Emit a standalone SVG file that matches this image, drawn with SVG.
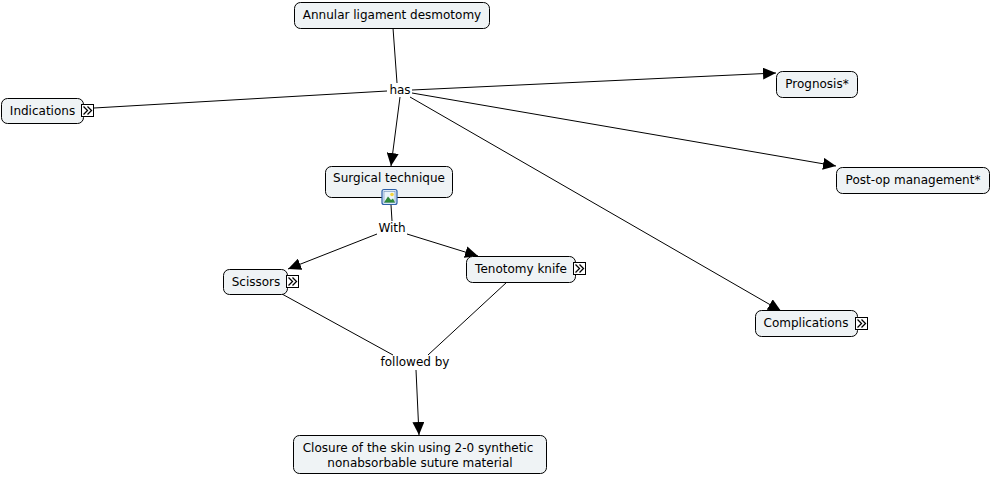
<svg xmlns="http://www.w3.org/2000/svg" width="992" height="477" viewBox="0 0 992 477">
<defs>
<style>
.box{fill:#eff3f5;stroke:#000;stroke-width:1}
.t{font-family:"DejaVu Sans",Verdana,sans-serif;font-size:12px;fill:#000}
.lbl{font-family:"DejaVu Sans",Verdana,sans-serif;font-size:12px;fill:#000;text-anchor:middle}
.c{stroke:#000;stroke-width:1;fill:none}
.ic{fill:#fff;stroke:#000;stroke-width:1}
.chev{fill:none;stroke:#000;stroke-width:1.3}
</style>
<marker id="ah" markerUnits="userSpaceOnUse" markerWidth="14" markerHeight="12" refX="13" refY="6" orient="auto">
<path d="M0,0 L13,6 L0,12 Z" fill="#000"/>
</marker>
<g id="more">
<rect class="ic" x="0" y="0" width="12" height="12"/>
<path class="chev" d="M2,2 L6,6 L2,10 M6,2 L10,6 L6,10"/>
</g>
</defs>
<rect width="992" height="477" fill="#fff"/>

<g id="connectors">
<line class="c" x1="393" y1="28" x2="397" y2="83"/>
<line class="c" x1="387" y1="91" x2="94" y2="108"/>
<line class="c" x1="412" y1="90" x2="776" y2="73" marker-end="url(#ah)"/>
<line class="c" x1="400" y1="97" x2="391" y2="166" marker-end="url(#ah)"/>
<line class="c" x1="412" y1="93" x2="836" y2="166" marker-end="url(#ah)"/>
<line class="c" x1="410" y1="97" x2="781" y2="311" marker-end="url(#ah)"/>
<line class="c" x1="391" y1="205" x2="392" y2="221"/>
<line class="c" x1="377" y1="234" x2="288" y2="269" marker-end="url(#ah)"/>
<line class="c" x1="407" y1="234" x2="478" y2="256" marker-end="url(#ah)"/>
<line class="c" x1="282" y1="294" x2="393" y2="355"/>
<line class="c" x1="507" y1="282" x2="428" y2="355"/>
<line class="c" x1="416" y1="370" x2="419" y2="435" marker-end="url(#ah)"/>
</g>

<g id="link-labels">
<text class="lbl" x="400" y="94">has</text>
<text class="lbl" x="392" y="232">With</text>
<text class="lbl" x="415" y="366">followed by</text>
</g>

<g id="node-annular">
<rect class="box" x="294.5" y="2.5" width="195" height="26" rx="6"/>
<text class="t" x="392" y="19" text-anchor="middle">Annular ligament desmotomy</text>
</g>

<g id="node-indications">
<rect class="box" x="1.5" y="98.5" width="82" height="25" rx="6"/>
<text class="t" x="42.5" y="115" text-anchor="middle">Indications</text>
<use href="#more" x="81.5" y="104.5"/>
</g>

<g id="node-prognosis">
<rect class="box" x="776.5" y="71.5" width="81" height="26" rx="6"/>
<text class="t" x="817" y="88" text-anchor="middle">Prognosis*</text>
</g>

<g id="node-postop">
<rect class="box" x="836.5" y="167.5" width="153" height="26" rx="6"/>
<text class="t" x="913" y="184" text-anchor="middle">Post-op management*</text>
</g>

<g id="node-surgical">
<rect class="box" x="325.5" y="166.5" width="127" height="31" rx="6"/>
<text class="t" x="389" y="182" text-anchor="middle">Surgical technique</text>
<g id="img-icon">
<rect x="382" y="189.5" width="15" height="15" rx="2" fill="#dbe9f8" stroke="#2c5fa8" stroke-width="1.2"/>
<rect x="384" y="191.5" width="11" height="11" fill="#eaf3fb" stroke="#6d8fb8" stroke-width="0.6"/>
<circle cx="392" cy="194.5" r="1.8" fill="#f2d33c"/>
<path d="M384,202.5 L388,196.5 L391,200 L393,198.5 L395,202.5 Z" fill="#2f8a3a"/>
</g>
</g>

<g id="node-scissors">
<rect class="box" x="223.5" y="269.5" width="64" height="25" rx="6"/>
<text class="t" x="256" y="286" text-anchor="middle">Scissors</text>
<use href="#more" x="286.5" y="275.5"/>
</g>

<g id="node-tenotomy">
<rect class="box" x="466.5" y="256.5" width="109" height="26" rx="6"/>
<text class="t" x="521" y="273" text-anchor="middle">Tenotomy knife</text>
<use href="#more" x="573.5" y="262.5"/>
</g>

<g id="node-complications">
<rect class="box" x="755.5" y="310.5" width="102" height="26" rx="6"/>
<text class="t" x="806" y="327" text-anchor="middle">Complications</text>
<use href="#more" x="855.5" y="317.5"/>
</g>

<g id="node-closure">
<rect class="box" x="293.5" y="435.5" width="253" height="38" rx="6"/>
<text class="t" x="418" y="452" text-anchor="middle">Closure of the skin using 2-0 synthetic</text>
<text class="t" x="420" y="467" text-anchor="middle">nonabsorbable suture material</text>
</g>
</svg>
